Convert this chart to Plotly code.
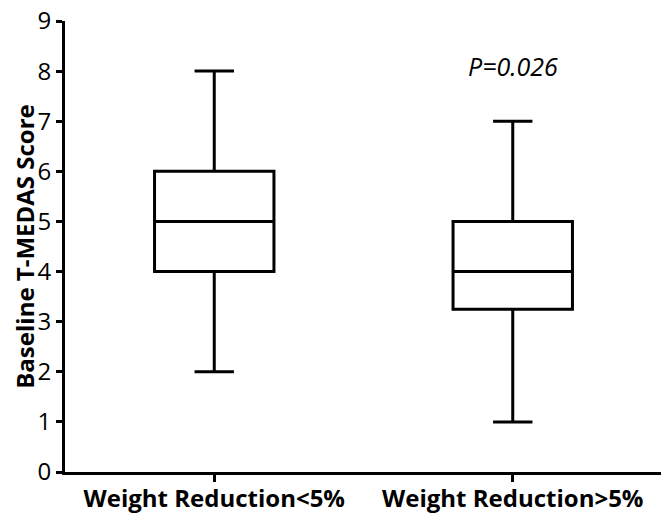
import plotly.graph_objects as go

groups = ['Weight Reduction<5%', 'Weight Reduction>5%']
lower = [2, 1]
q1 = [4, 3.25]
median = [5, 4]
q3 = [6, 5]
upper = [8, 7]
p_text = 'P=0.026'

fig = go.Figure()
fig.add_trace(go.Box(
    x=groups, q1=q1, median=median, q3=q3,
    lowerfence=lower, upperfence=upper,
    fillcolor='white', line=dict(color='black', width=3),
    width=0.40, whiskerwidth=0.33, boxpoints=False,
    showlegend=False, hoverinfo='skip'
))

fig.add_annotation(x=groups[1], y=8.1, text='<i>' + p_text + '</i>',
                   showarrow=False, font=dict(size=25, color='black'))

font = "Open Sans, Noto Sans, sans-serif"
fig.update_layout(
    width=669, height=525,
    margin=dict(l=57, r=15, t=13, b=61),
    plot_bgcolor='white', paper_bgcolor='white',
    font=dict(family=font, color='black'),
    xaxis=dict(range=[-0.5, 1.5], showline=True, linecolor='black', linewidth=3,
               ticks='outside', ticklen=7, tickwidth=3, tickcolor='black', automargin=False,
               ticklabelstandoff=-4,
               tickfont=dict(size=24, family=font, weight='bold'), showgrid=False),
    yaxis=dict(range=[0, 9], dtick=1, showline=True, linecolor='black', linewidth=3,
               ticks='outside', ticklen=6, tickwidth=3, tickcolor='black', automargin=False,
               ticklabeloverflow='allow',
               tickfont=dict(size=24), showgrid=False, zeroline=False,
               title=dict(text='Baseline T-MEDAS Score', standoff=11,
                          font=dict(size=24, weight='bold'))),
)

fig.write_html("out.html")
